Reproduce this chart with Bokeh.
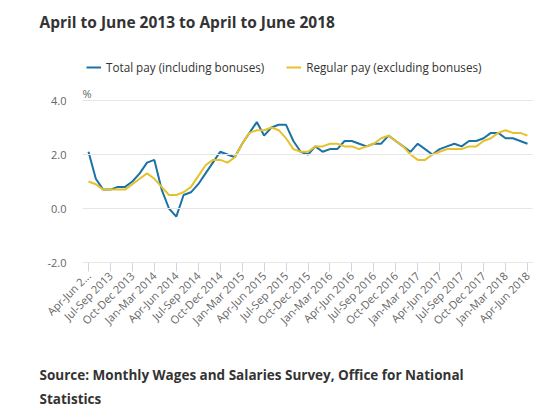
import math
from bokeh.plotting import figure
from bokeh.models import (ColumnDataSource, FixedTicker, NumeralTickFormatter,
                          Legend, LegendItem, Range1d, Label)
from bokeh.embed import file_html
from bokeh.resources import INLINE

# ---- data -------------------------------------------------------------
title_text = "April to June 2013 to April to June 2018"
source_lines = ["Source: Monthly Wages and Salaries Survey, Office for National",
                "Statistics"]
series_names = ["Total pay (including bonuses)", "Regular pay (excluding bonuses)"]
unit_text = "%"

tick_labels = ["Apr-Jun 2...", "Jul-Sep 2013", "Oct-Dec 2013", "Jan-Mar 2014",
               "Apr-Jun 2014", "Jul-Sep 2014", "Oct-Dec 2014", "Jan-Mar 2015",
               "Apr-Jun 2015", "Jul-Sep 2015", "Oct-Dec 2015", "Jan-Mar 2016",
               "Apr-Jun 2016", "Jul-Sep 2016", "Oct-Dec 2016", "Jan-Mar 2017",
               "Apr-Jun 2017", "Jul-Sep 2017", "Oct-Dec 2017", "Jan-Mar 2018",
               "Apr-Jun 2018"]

total_pay = [2.1, 1.1, 0.7, 0.7, 0.8, 0.8, 1.0, 1.3, 1.7, 1.8,
             0.7, 0.0, -0.3, 0.5, 0.6, 0.9, 1.3, 1.7, 2.1, 2.0,
             1.9, 2.4, 2.8, 3.2, 2.7, 3.0, 3.1, 3.1, 2.5, 2.1,
             2.0, 2.3, 2.1, 2.2, 2.2, 2.5, 2.5, 2.4, 2.3, 2.4,
             2.4, 2.7, 2.5, 2.3, 2.1, 2.4, 2.2, 2.0, 2.2, 2.3,
             2.4, 2.3, 2.5, 2.5, 2.6, 2.8, 2.8, 2.6, 2.6, 2.5,
             2.4]

regular_pay = [1.0, 0.9, 0.7, 0.7, 0.7, 0.7, 0.9, 1.1, 1.3, 1.1,
               0.8, 0.5, 0.5, 0.6, 0.8, 1.2, 1.6, 1.8, 1.8, 1.7,
               1.9, 2.4, 2.8, 2.9, 2.9, 3.0, 2.9, 2.6, 2.2, 2.1,
               2.1, 2.3, 2.3, 2.4, 2.4, 2.3, 2.3, 2.2, 2.3, 2.4,
               2.6, 2.7, 2.5, 2.3, 2.0, 1.8, 1.8, 2.0, 2.1, 2.2,
               2.2, 2.2, 2.3, 2.3, 2.5, 2.6, 2.8, 2.9, 2.8, 2.8,
               2.7]

y_ticks = [-2, 0, 2, 4]

# ---- layout constants (pixels on the canvas) ---------------------------
W, H = 536, 412
PX_X0, PX_PER_X = 88.0, 439.0 / 60.0        # x=0 position, px per period
PX_Y4, PX_PER_Y = 100.0, 27.0               # y=4 position, px per percent
PLOT_L, PLOT_R = 82.0, 532.0                # plot area left / right


def xd(px):
    return (px - PX_X0) / PX_PER_X


def yd(py):
    return 4.0 - (py - PX_Y4) / PX_PER_Y


FONT = "Open Sans"
BLUE = "#1b72a4"
YELLOW = "#e6c12a"

idx = list(range(len(total_pay)))
src = ColumnDataSource(dict(x=idx, total=total_pay, regular=regular_pay))

p = figure(width=W, height=H, output_backend="svg", toolbar_location=None,
           x_range=Range1d(xd(0), xd(W)), y_range=Range1d(yd(H), yd(0)),
           min_border_left=0, min_border_right=0,
           min_border_top=0, min_border_bottom=0)
p.outline_line_color = None
p.xgrid.visible = False
p.ygrid.visible = False

r1 = p.line("x", "total", source=src, line_color=BLUE, line_width=2)
r2 = p.line("x", "regular", source=src, line_color=YELLOW, line_width=2)

# y axis (its inward ticks serve as the horizontal grid lines)
ya = p.yaxis[0]
ya.fixed_location = xd(PLOT_L)
ya.bounds = (min(y_ticks), max(y_ticks))
ya.ticker = FixedTicker(ticks=y_ticks)
ya.formatter = NumeralTickFormatter(format="0.0")
ya.axis_line_color = None
ya.major_tick_line_color = "#e6e6e6"
ya.major_tick_line_width = 1
ya.minor_tick_line_color = None
ya.major_tick_out = 0
ya.major_tick_in = int(PLOT_R - PLOT_L)
ya.major_label_standoff = 16
ya.major_label_text_font = FONT
ya.major_label_text_font_size = "11px"
ya.major_label_text_color = "#666666"

# x axis
xa = p.xaxis[0]
tick_pos = list(range(0, len(total_pay), 3))
xa.fixed_location = min(y_ticks)
xa.bounds = (xd(PLOT_L), xd(PLOT_R))
xa.ticker = FixedTicker(ticks=tick_pos)
xa.major_label_overrides = {t: lab for t, lab in zip(tick_pos, tick_labels)}
xa.major_label_orientation = math.pi / 4
xa.axis_line_color = "#ccd6eb"
xa.major_tick_line_color = "#ccd6eb"
xa.minor_tick_line_color = None
xa.major_tick_out = 9
xa.major_tick_in = 0
xa.major_label_standoff = 2
xa.major_label_text_font = FONT
xa.major_label_text_font_size = "11px"
xa.major_label_text_color = "#666666"

# legend
legend = Legend(items=[LegendItem(label=series_names[0], renderers=[r1]),
                       LegendItem(label=series_names[1], renderers=[r2])],
                orientation="horizontal", location=(86, H - 75),
                glyph_width=15, glyph_height=16, label_height=16,
                label_standoff=5, spacing=22, padding=0, margin=0,
                border_line_color=None, background_fill_alpha=0,
                label_text_font=FONT, label_text_font_size="11.7px",
                label_text_color="#333333")
p.add_layout(legend)

# texts
p.add_layout(Label(x=xd(39), y=yd(21), text=title_text, text_font=FONT,
                   text_font_size="15.5px", text_font_style="bold",
                   text_color="#333333", text_baseline="middle", text_align="left"))
p.add_layout(Label(x=xd(82), y=yd(93), text=unit_text, text_font=FONT,
                   text_font_size="11px", text_color="#666666",
                   text_baseline="middle", text_align="left"))
for i, line in enumerate(source_lines):
    p.add_layout(Label(x=xd(39), y=yd(374 + 24 * i), text=line, text_font=FONT,
                       text_font_size="13.5px", text_font_style="bold",
                       text_color="#333333", text_baseline="middle",
                       text_align="left"))

open("out.html", "w").write(file_html(p, INLINE))
